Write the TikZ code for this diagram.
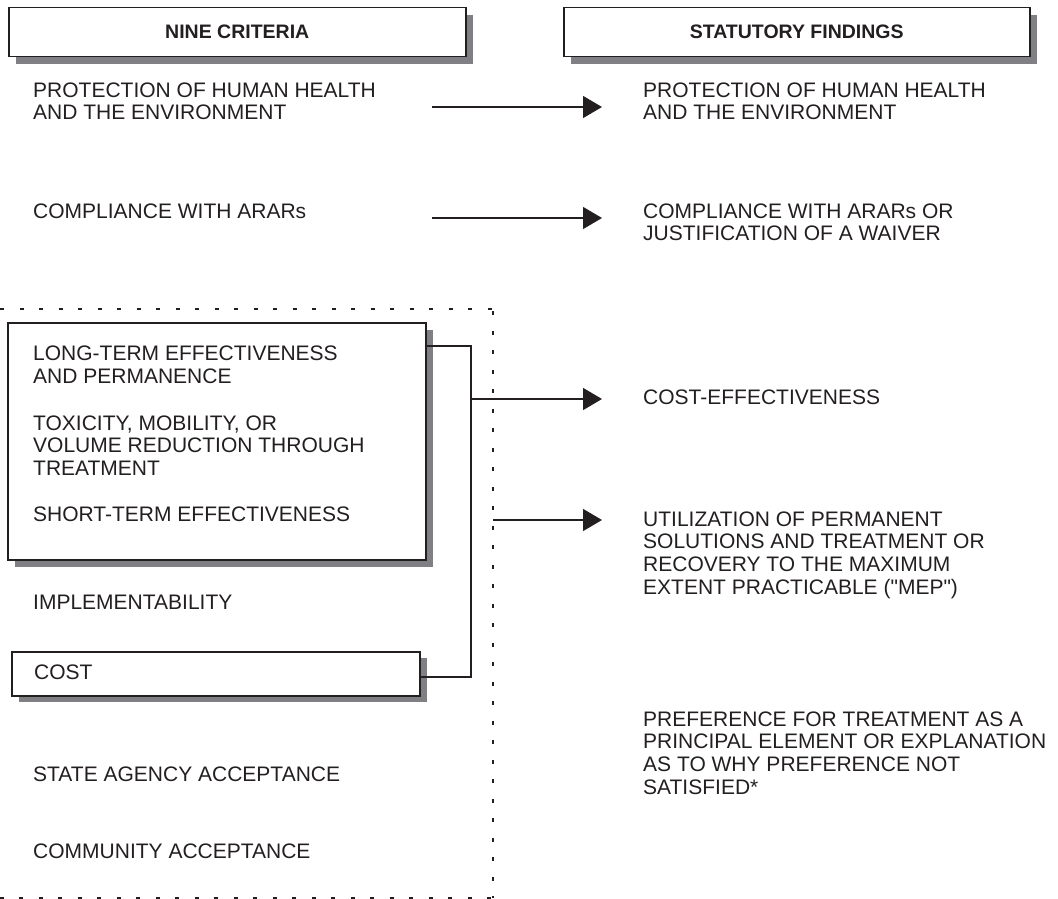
\documentclass[tikz,border=0pt]{standalone}
\usepackage{fontspec}
\setmainfont{Liberation Sans}[Ligatures=TeXOff]
\usetikzlibrary{arrows.meta}
\definecolor{ink}{RGB}{35,31,32}
\definecolor{shade}{RGB}{128,128,132}
\begin{document}
\begin{tikzpicture}[x=1pt,y=-1pt,
  txt/.style={anchor=base west, inner sep=0pt, align=left, text=ink,
    font=\fontsize{21}{22.7}\selectfont},
  hdr/.style={draw=ink, line width=1.5pt, fill=white, anchor=north west, inner sep=0pt,
    text=ink, font=\bfseries\fontsize{19.5}{22}\selectfont},
  frame/.style={draw=ink, line width=1.5pt, fill=white, anchor=north west, inner sep=0pt},
  shadowbox/.style={fill=shade, draw=none},
  conn/.style={draw=ink, line width=1.4pt},
  arr/.style={conn, -{Triangle[length=19pt,width=22pt]}, shorten >=41pt},
  dotline/.style={draw=ink, line width=1.6pt, dash pattern=on 4pt off 15.5pt}]
\useasboundingbox (0,0) rectangle (1058,899);

% dotted enclosure
\draw[dotline] (0,309) -- (493,309);
\draw[dotline] (493,311) -- (493,898);
\draw[dotline] (491,898) -- (0,898);

% header boxes
\fill[shadowbox] (16,15) rectangle (473,64);
\node[hdr, minimum width=457pt, minimum height=49pt] (h1) at (8,7) {NINE CRITERIA};
\fill[shadowbox] (571,15) rectangle (1037,64);
\node[hdr, minimum width=466pt, minimum height=49pt] (h2) at (563,7) {STATUTORY FINDINGS};

% grouped boxes
\fill[shadowbox] (15,330) rectangle (433,567);
\node[frame, minimum width=418pt, minimum height=237pt] (big) at (7,322) {};
\fill[shadowbox] (19,658) rectangle (427,702);
\node[frame, minimum width=408pt, minimum height=44pt] (costbox) at (11,651) {};

% left column (base anchor = baseline of the last line)
\node[txt] (l1) at (33,119.7) {PROTECTION OF HUMAN HEALTH\\AND THE ENVIRONMENT};
\node[txt] (l2) at (33,218) {COMPLIANCE WITH ARARs};
\node[txt] (l3) at (33,383.5) {LONG-TERM EFFECTIVENESS\\AND PERMANENCE};
\node[txt] (l4) at (33,475.5) {TOXICITY, MOBILITY, OR\\VOLUME REDUCTION THROUGH\\TREATMENT};
\node[txt] (l5) at (33,521) {SHORT-TERM EFFECTIVENESS};
\node[txt] (l6) at (33,609) {IMPLEMENTABILITY};
\node[txt] (l7) at (34,679) {COST};
\node[txt] (l8) at (33,781) {STATE AGENCY ACCEPTANCE};
\node[txt] (l9) at (33,858) {COMMUNITY ACCEPTANCE};

% right column
\node[txt] (r1) at (643,119.7) {PROTECTION OF HUMAN HEALTH\\AND THE ENVIRONMENT};
\node[txt] (r2) at (643,240.7) {COMPLIANCE WITH ARARs OR\\JUSTIFICATION OF A WAIVER};
\node[txt] (r3) at (643,404) {COST-EFFECTIVENESS};
\node[txt] (r4) at (643,594.1) {UTILIZATION OF PERMANENT\\SOLUTIONS AND TREATMENT OR\\RECOVERY TO THE MAXIMUM\\EXTENT PRACTICABLE ("MEP")};
\node[txt] (r5) at (643,794.1) {PREFERENCE FOR TREATMENT AS A\\PRINCIPAL ELEMENT OR EXPLANATION\\AS TO WHY PREFERENCE NOT\\SATISFIED*};

% bracket
\coordinate (bt) at (471,346);
\coordinate (bb) at (471,677);
\draw[conn] ([xshift=-2pt]big.east |- bt) -- (bt) -- (bb) -- (costbox.east |- bb);

% arrow start points
\coordinate (a1) at (432,107);
\coordinate (a2) at (432,218);
\coordinate (a3) at (471,399);
\coordinate (a4) at (493,520);

\draw[arr] (a1) -- (a1 -| r1.west);
\draw[arr] (a2) -- (a2 -| r2.west);
\draw[arr] (a3) -- (a3 -| r3.west);
\draw[arr] (a4) -- (a4 -| r4.west);
\end{tikzpicture}
\end{document}
